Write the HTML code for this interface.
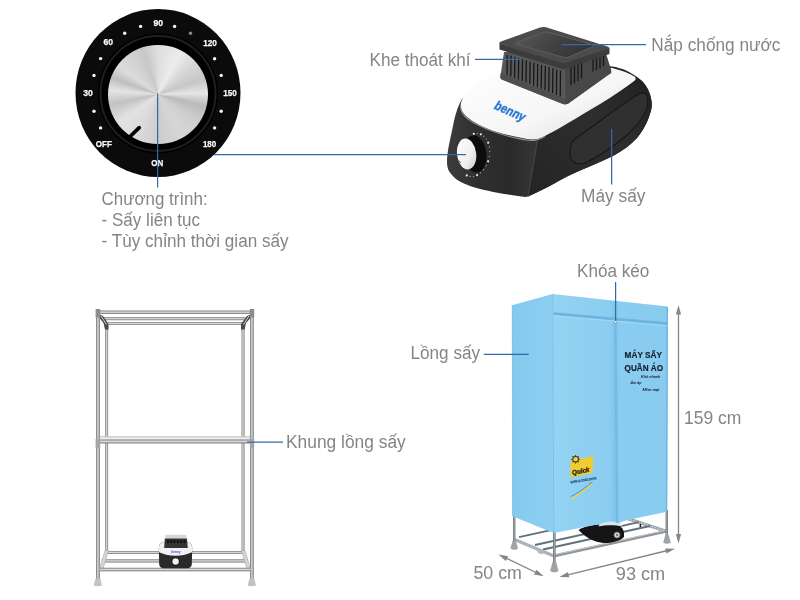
<!DOCTYPE html>
<html lang="vi"><head><meta charset="utf-8"><title>Máy sấy quần áo</title>
<style>
html,body{margin:0;padding:0;background:#fff;}
body{width:800px;height:600px;overflow:hidden;font-family:"Liberation Sans",sans-serif;}
svg{display:block;will-change:transform;font-family:"Liberation Sans",sans-serif;}
</style></head><body>
<svg width="800" height="600" viewBox="0 0 800 600">
<defs>
<radialGradient id="dialg" cx="50%" cy="45%" r="55%"><stop offset="0" stop-color="#1c1c1c"/><stop offset="0.75" stop-color="#0d0d0d"/><stop offset="1" stop-color="#050505"/></radialGradient>
<linearGradient id="tube" x1="0" y1="0" x2="1" y2="0"><stop offset="0" stop-color="#6a6a6a"/><stop offset="0.3" stop-color="#bcbcbc"/><stop offset="0.5" stop-color="#d6d6d6"/><stop offset="0.75" stop-color="#a6a6a6"/><stop offset="1" stop-color="#727272"/></linearGradient>
<linearGradient id="tubeh" x1="0" y1="0" x2="0" y2="1"><stop offset="0" stop-color="#626262"/><stop offset="0.3" stop-color="#bebebe"/><stop offset="0.5" stop-color="#dadada"/><stop offset="0.75" stop-color="#a2a2a2"/><stop offset="1" stop-color="#707070"/></linearGradient>
</defs>
<rect width="800" height="600" fill="#fff"/>

<g id="dial">
<ellipse cx="158" cy="93" rx="82.5" ry="84" fill="#0b0b0b"/>
<circle cx="158" cy="93.5" r="60" fill="#000"/>
<circle cx="158" cy="93.5" r="57.5" fill="none" stroke="#1f1f1f" stroke-width="2"/>
<foreignObject x="108" y="44.7" width="100" height="100"><div style="width:99.6px;height:99.6px;border-radius:50%;background:conic-gradient(from 0deg,#dedede 0deg,#ececec 28deg,#d6d6d6 50deg,#c6c6c6 72deg,#e6e6e6 88deg,#bababa 104deg,#cfcfcf 125deg,#d6d6d6 150deg,#cdcdcd 180deg,#dadada 205deg,#e2e2e2 235deg,#c2c2c2 258deg,#e4e4e4 275deg,#bfbfbf 290deg,#dcdcdc 305deg,#d2d2d2 325deg,#c8c8c8 342deg,#dedede 360deg);"></div></foreignObject>
<line x1="139.2" y1="127.7" x2="130.6" y2="136" stroke="#050505" stroke-width="3.8" stroke-linecap="round"/>
<circle cx="174.6" cy="26.4" r="1.7" fill="#f4f4f4"/>
<circle cx="190.5" cy="33.3" r="1.7" fill="#8a8a8a"/>
<circle cx="214.6" cy="58.7" r="1.7" fill="#f4f4f4"/>
<circle cx="221.2" cy="75.4" r="1.7" fill="#f4f4f4"/>
<circle cx="221.2" cy="111.2" r="1.7" fill="#f4f4f4"/>
<circle cx="214.6" cy="127.9" r="1.7" fill="#f4f4f4"/>
<circle cx="100.6" cy="127.9" r="1.7" fill="#f4f4f4"/>
<circle cx="94.0" cy="111.2" r="1.7" fill="#f4f4f4"/>
<circle cx="94.0" cy="75.4" r="1.7" fill="#f4f4f4"/>
<circle cx="100.6" cy="58.6" r="1.7" fill="#f4f4f4"/>
<circle cx="124.7" cy="33.3" r="1.7" fill="#f4f4f4"/>
<circle cx="140.6" cy="26.4" r="1.7" fill="#f4f4f4"/>
<text x="153.39999999999998" y="25.6" font-size="8.6" fill="#fafafa" text-anchor="start" font-weight="bold" textLength="9.6" lengthAdjust="spacingAndGlyphs" stroke="#fafafa" stroke-width="0.25">90</text>
<text x="103.45" y="45.4" font-size="8.6" fill="#fafafa" text-anchor="start" font-weight="bold" textLength="9.6" lengthAdjust="spacingAndGlyphs" stroke="#fafafa" stroke-width="0.25">60</text>
<text x="203.15" y="45.85" font-size="8.6" fill="#fafafa" text-anchor="start" font-weight="bold" textLength="13.7" lengthAdjust="spacingAndGlyphs" stroke="#fafafa" stroke-width="0.25">120</text>
<text x="83.2" y="95.6" font-size="8.6" fill="#fafafa" text-anchor="start" font-weight="bold" textLength="9.6" lengthAdjust="spacingAndGlyphs" stroke="#fafafa" stroke-width="0.25">30</text>
<text x="223.25" y="96.35" font-size="8.6" fill="#fafafa" text-anchor="start" font-weight="bold" textLength="13.5" lengthAdjust="spacingAndGlyphs" stroke="#fafafa" stroke-width="0.25">150</text>
<text x="95.65" y="147.1" font-size="8.6" fill="#fafafa" text-anchor="start" font-weight="bold" textLength="16.2" lengthAdjust="spacingAndGlyphs" stroke="#fafafa" stroke-width="0.25">OFF</text>
<text x="202.9" y="147.1" font-size="8.6" fill="#fafafa" text-anchor="start" font-weight="bold" textLength="13.2" lengthAdjust="spacingAndGlyphs" stroke="#fafafa" stroke-width="0.25">180</text>
<text x="151.3" y="166.4" font-size="8.6" fill="#fafafa" text-anchor="start" font-weight="bold" textLength="12" lengthAdjust="spacingAndGlyphs" stroke="#fafafa" stroke-width="0.25">ON</text>
</g>
<g id="device">
<defs>
<linearGradient id="bodyg" x1="0" y1="0" x2="1" y2="0"><stop offset="0" stop-color="#3c3c3c"/><stop offset="0.15" stop-color="#2f2f2f"/><stop offset="0.3" stop-color="#2a2a2a"/><stop offset="0.42" stop-color="#343434"/><stop offset="1" stop-color="#222"/></linearGradient>
<linearGradient id="sideg" x1="0" y1="1" x2="1" y2="0"><stop offset="0" stop-color="#242424"/><stop offset="0.6" stop-color="#2e2e2e"/><stop offset="1" stop-color="#202020"/></linearGradient>
<linearGradient id="whiteg" x1="0" y1="0" x2="1" y2="1"><stop offset="0" stop-color="#ffffff"/><stop offset="0.6" stop-color="#f6f6f6"/><stop offset="1" stop-color="#d9d9d9"/></linearGradient>
<linearGradient id="knobg" x1="0" y1="0" x2="1" y2="1"><stop offset="0" stop-color="#ffffff"/><stop offset="0.6" stop-color="#f0f0f0"/><stop offset="1" stop-color="#c8c8c8"/></linearGradient>
<linearGradient id="capg" x1="0" y1="0" x2="1" y2="0.3"><stop offset="0" stop-color="#5a5a5a"/><stop offset="0.5" stop-color="#444"/><stop offset="1" stop-color="#363636"/></linearGradient>
</defs>
<path d="M462,99 C457,108 455,116 453,126 C450,140 447,152 447,162 C447,168 449,172 452,175 C456,180 462,183 470,186 C482,190 500,193.5 518,196 C522,196.8 525,197.3 528,196.6 C545,189 556,182.5 567,176.5 C583,169 599,163 613,156 C623,150.5 631,144.5 637,138 C642,132 646,125 648,119.5 C650,114 652,109 651.8,104 C651.5,96 648,87 642,81 C638,77.5 632,73 624,69.5 C618,67.5 613,66.3 609,66 L600,82 L500,82 L474,92 Z" fill="url(#bodyg)"/>
<path d="M528,196.6 C545,189 556,182.5 567,176.5 C583,169 599,163 613,156 C623,150.5 631,144.5 637,138 C642,132 646,125 648,119.5 C650,114 652,109 651.8,104 C651.5,96 648,87 642,81 L636,76.5 C612,95 580,116 545,135 L537.5,139.5 Z" fill="url(#sideg)"/>
<path d="M537.5,140 L528,196.4" stroke="#474747" stroke-width="1" fill="none"/>
<path d="M575,139 C598,123 624,102 640,93.5 C646.5,91 648.5,97 647.5,105 C646,114 639,124 628,134 C616,145 598,157 586,162.5 C577,166 570.5,162 570,154 C569.8,147 571,142 575,139 Z" fill="#303030" stroke="#161616" stroke-width="1.1"/>
<path d="M462,100 C466,92 470,88 476,84 C484,78 492,74 502,69 L540,60 L612,68 C622,70.5 630,73.5 634.5,76.5 C636.5,78 636,79.5 633.5,81.5 C615,95 600,104.5 584,113.5 C570,122 555,131 543,137 C538,139.5 533,140 527,139 C514,137 503,134 492,130.5 C482,127 473,122 467,117 C461,112 459,106 462,100 Z" fill="url(#whiteg)"/>
<path d="M460.5,106 C460.5,111 463,115.5 468,119 C476,125 486,129 496,132.5 C508,136.5 520,139.5 530,140.5 C536,141 540,139.5 545,136.5" fill="none" stroke="#8e8e8e" stroke-width="1.1"/>
<path d="M504,52 L500.5,76 C500,78 501,79 503,80 L562,103.5 C564,104.5 566,104.5 568,103.5 L609,74 C611,73 611.5,71.5 611,70 L606,54 Z" fill="#585858"/>
<path d="M500.8,73 L564.8,98.8 L610.6,68.5 L611.2,71.5 C611.5,73 611,73.5 609,74.5 L568,103.8 C566,104.8 564,104.8 562,103.8 L503,80 C501,79 500,78 500.3,76 Z" fill="#4e4e4e"/>
<path d="M565,66 L565.5,104 C566,104.3 567,104 568,103.5 L609,74 C611,73 611.5,71.5 611,70 L606,54 Z" fill="#484848"/>
<line x1="507.3" y1="54.7" x2="507.0" y2="74.9" stroke="#151515" stroke-width="1.25"/>
<line x1="511.1" y1="55.8" x2="510.8" y2="76.5" stroke="#151515" stroke-width="1.25"/>
<line x1="514.9" y1="56.9" x2="514.6" y2="78.0" stroke="#151515" stroke-width="1.25"/>
<line x1="518.7" y1="58.1" x2="518.4" y2="79.5" stroke="#151515" stroke-width="1.25"/>
<line x1="522.5" y1="59.2" x2="522.2" y2="81.1" stroke="#151515" stroke-width="1.25"/>
<line x1="526.3" y1="60.3" x2="526.0" y2="82.6" stroke="#151515" stroke-width="1.25"/>
<line x1="530.1" y1="61.5" x2="529.8" y2="84.1" stroke="#151515" stroke-width="1.25"/>
<line x1="533.9" y1="62.6" x2="533.6" y2="85.7" stroke="#151515" stroke-width="1.25"/>
<line x1="537.7" y1="63.7" x2="537.4" y2="87.2" stroke="#151515" stroke-width="1.25"/>
<line x1="541.5" y1="64.9" x2="541.2" y2="88.7" stroke="#151515" stroke-width="1.25"/>
<line x1="545.3" y1="66.0" x2="545.0" y2="90.3" stroke="#151515" stroke-width="1.25"/>
<line x1="549.1" y1="67.1" x2="548.8" y2="91.8" stroke="#151515" stroke-width="1.25"/>
<line x1="552.9" y1="68.3" x2="552.6" y2="93.3" stroke="#151515" stroke-width="1.25"/>
<line x1="556.7" y1="69.4" x2="556.4" y2="94.9" stroke="#151515" stroke-width="1.25"/>
<line x1="560.5" y1="70.5" x2="560.2" y2="96.4" stroke="#151515" stroke-width="1.25"/>
<line x1="571" y1="67" x2="571" y2="85" stroke="#151515" stroke-width="1.25"/>
<line x1="574.5" y1="65.5" x2="574.5" y2="83.5" stroke="#151515" stroke-width="1.25"/>
<line x1="578" y1="64" x2="578" y2="81" stroke="#151515" stroke-width="1.25"/>
<line x1="581.5" y1="62.5" x2="581.5" y2="78.5" stroke="#151515" stroke-width="1.25"/>
<line x1="593" y1="58.5" x2="593" y2="71.5" stroke="#151515" stroke-width="1.25"/>
<line x1="596.5" y1="57" x2="596.5" y2="70" stroke="#151515" stroke-width="1.25"/>
<line x1="600" y1="55.5" x2="600" y2="68.5" stroke="#151515" stroke-width="1.25"/>
<line x1="603.5" y1="54" x2="603.5" y2="66" stroke="#151515" stroke-width="1.25"/>
<path d="M499.5,43 L499.5,49.5 L563.5,69.5 L609.5,54 L609.5,47.5 L563.5,63 Z" fill="#3c3c3c"/>
<path d="M501,41.5 L540,27.5 C542,26.8 544,26.8 546,27.3 L607.5,46.5 C609.5,47.3 609.5,48.3 607.5,49 L566,62.5 C564,63.2 562,63.2 560,62.6 L501,44.5 C499,43.8 499,42.3 501,41.5 Z" fill="#4b4b4b"/>
<path d="M517,42 L543,32.5 C545,32 547,32 549,32.5 L592,44.5 C594,45.3 594,46.3 592,47 L569,57 C567,57.7 565,57.7 563,57.2 L517,44.5 C515.5,44 515.5,42.6 517,42 Z" fill="url(#capg)" stroke="#5e5e5e" stroke-width="1"/>
<ellipse cx="475" cy="154" rx="11.3" ry="18.6" fill="#0c0c0c" transform="rotate(-7 475 154)"/>
<circle cx="473.8" cy="133.8" r="1.1" fill="#ededed"/>
<circle cx="477.4" cy="133.5" r="0.6" fill="#bdbdbd"/>
<circle cx="480.8" cy="134.3" r="1.1" fill="#ededed"/>
<circle cx="483.8" cy="136.2" r="0.6" fill="#bdbdbd"/>
<circle cx="486.3" cy="139.0" r="0.6" fill="#bdbdbd"/>
<circle cx="488.2" cy="142.7" r="1.1" fill="#ededed"/>
<circle cx="489.3" cy="146.9" r="0.6" fill="#bdbdbd"/>
<circle cx="489.7" cy="151.6" r="0.6" fill="#bdbdbd"/>
<circle cx="489.3" cy="156.5" r="0.6" fill="#bdbdbd"/>
<circle cx="488.1" cy="161.3" r="1.1" fill="#ededed"/>
<circle cx="486.1" cy="165.8" r="0.6" fill="#bdbdbd"/>
<circle cx="483.6" cy="169.7" r="0.6" fill="#bdbdbd"/>
<circle cx="480.5" cy="172.8" r="0.6" fill="#bdbdbd"/>
<circle cx="477.1" cy="175.1" r="1.1" fill="#ededed"/>
<circle cx="473.6" cy="176.3" r="0.6" fill="#bdbdbd"/>
<circle cx="470.1" cy="176.4" r="0.6" fill="#bdbdbd"/>
<circle cx="466.8" cy="175.4" r="1.1" fill="#ededed"/>
<ellipse cx="466.6" cy="154" rx="9.6" ry="15.6" fill="url(#knobg)" transform="rotate(-7 466.6 154)"/>
<path d="M458.8,160.5 L460.6,162.6" stroke="#222" stroke-width="0.9"/>
<text x="493.5" y="108.6" font-size="13" font-weight="bold" font-style="italic" fill="#2a78d2" stroke="#2a78d2" stroke-width="0.4" transform="rotate(24 493.5 108.6)" textLength="32.5" lengthAdjust="spacingAndGlyphs">benny</text>
</g>
<g id="rack">
<rect x="105.2" y="327" width="2.90" height="226.00" fill="url(#tube)"/>
<rect x="241.6" y="327" width="2.90" height="226.00" fill="url(#tube)"/>
<rect x="103.5" y="317.2" width="143.50" height="3.00" fill="url(#tubeh)"/>
<rect x="107.5" y="322.2" width="135.50" height="2.70" fill="url(#tubeh)"/>
<path d="M99.5,314.5 L103,316 L108.5,324 L108.5,329.5 L105,329.5 L103.5,323 L99.5,318 Z" fill="#4a4a4a"/>
<path d="M101,316 L106.5,324.5" stroke="#d0d0d0" stroke-width="1" fill="none"/>
<path d="M250.5,314.5 L247,316 L241,324 L241,329.5 L244.6,329.5 L246,323 L250.5,318 Z" fill="#4a4a4a"/>
<path d="M249,316 L243.5,324.5" stroke="#d0d0d0" stroke-width="1" fill="none"/>
<rect x="105.2" y="551.2" width="139.30" height="2.80" fill="url(#tubeh)"/>
<rect x="102" y="559.4" width="146.00" height="3.10" fill="url(#tubeh)"/>
<path d="M100,567 L105,550.5 L108.5,550.5 L103,569 Z" fill="#d5d5d5" stroke="#a8a8a8" stroke-width="0.6"/>
<path d="M250,567 L245,550.5 L241.5,550.5 L247,569 Z" fill="#d5d5d5" stroke="#a8a8a8" stroke-width="0.6"/>
<rect x="100" y="436.6" width="150.5" height="4" fill="#ececec"/>
<rect x="99" y="439.6" width="152.50" height="3.80" fill="url(#tubeh)"/>
<rect x="100" y="436.4" width="150.5" height="0.8" fill="#b5b5b5"/>
<rect x="96" y="312" width="3.90" height="268.00" fill="url(#tube)"/>
<rect x="250" y="312" width="3.80" height="268.00" fill="url(#tube)"/>
<rect x="99.5" y="310.6" width="151.00" height="3.40" fill="url(#tubeh)"/>
<rect x="95.6" y="309" width="4.6" height="8.5" fill="#8c8c8c"/>
<rect x="249.8" y="309" width="4.4" height="8.5" fill="#8c8c8c"/>
<rect x="95.6" y="439" width="4.6" height="9" fill="#a6a6a6"/>
<rect x="249.8" y="439" width="4.4" height="9" fill="#a6a6a6"/>
<rect x="99.5" y="567.8" width="151.00" height="3.50" fill="url(#tubeh)"/>
<path d="M95.6,578.6 L100.3,578.6 L102,585.6 Q97.8,587 93.6,585.6 Z" fill="#c2c2c2"/>
<path d="M249.6,578.6 L254.3,578.6 L256,585.6 Q251.8,587 247.6,585.6 Z" fill="#c2c2c2"/>
<g id="minidryer">
<path d="M158.8,548 Q158.8,542 164.5,542 L186.5,542 Q192.2,542 192.2,548 L191.8,564.5 Q191.4,568 187,568.3 L164,568.3 Q159.6,568 159.2,564.5 Z" fill="#2a2a2a"/>
<path d="M158.9,548 Q158.8,542 164.5,542 L186.5,542 Q192.2,542 192.1,548 L192,552.2 Q184,555.8 175.5,555.8 Q167,555.8 159,552.2 Z" fill="#f1f1f1"/>
<rect x="165.2" y="534.8" width="21.2" height="4" rx="1.2" fill="#d6d6d6"/>
<path d="M164.8,538.4 L187,538.4 L187.8,548 L164.2,548 Z" fill="#333"/>
<rect x="167.0" y="540.2" width="1.9" height="2.6" fill="#0a0a0a"/>
<rect x="170.3" y="540.2" width="1.9" height="2.6" fill="#0a0a0a"/>
<rect x="173.6" y="540.2" width="1.9" height="2.6" fill="#0a0a0a"/>
<rect x="176.9" y="540.2" width="1.9" height="2.6" fill="#0a0a0a"/>
<rect x="180.2" y="540.2" width="1.9" height="2.6" fill="#0a0a0a"/>
<rect x="183.5" y="540.2" width="1.9" height="2.6" fill="#0a0a0a"/>
<text x="176" y="552.5" font-size="2.6" font-weight="bold" font-style="italic" fill="#2a62b8" text-anchor="middle" textLength="9.4" lengthAdjust="spacingAndGlyphs">benny</text>
<circle cx="175.6" cy="561.5" r="4.3" fill="#141414"/>
<circle cx="175.6" cy="561.5" r="3.2" fill="#efefef"/>
</g>
</g>
<g id="wardrobe">
<defs>
<linearGradient id="frontg" x1="0" y1="0" x2="1" y2="0"><stop offset="0" stop-color="#93d3f3"/><stop offset="0.5" stop-color="#8bcdf0"/><stop offset="0.54" stop-color="#7fc4ea"/><stop offset="0.58" stop-color="#8bcdf0"/><stop offset="1" stop-color="#88cbef"/></linearGradient>
<linearGradient id="sidefg" x1="0" y1="0" x2="1" y2="0"><stop offset="0" stop-color="#85c9ee"/><stop offset="1" stop-color="#8ccff1"/></linearGradient>
<linearGradient id="legg" x1="0" y1="0" x2="1" y2="0"><stop offset="0" stop-color="#62676c"/><stop offset="0.5" stop-color="#a4a9ae"/><stop offset="1" stop-color="#6a6f74"/></linearGradient>
</defs>
<line x1="628" y1="518.8" x2="667" y2="531.5" stroke="#9aa0a6" stroke-width="3.2"/>
<line x1="628" y1="518.8" x2="667" y2="531.5" stroke="#d5d9dc" stroke-width="1.6" stroke-dasharray="1.2 1.6"/>
<rect x="639.6" y="524" width="1.6" height="3.6" fill="#222"/>
<line x1="519" y1="537.2" x2="619" y2="515.2" stroke="#5d727e" stroke-width="1.8"/>
<line x1="535" y1="545" x2="639" y2="522.2" stroke="#5d727e" stroke-width="1.8"/>
<line x1="543" y1="549.5" x2="650" y2="526.0" stroke="#5d727e" stroke-width="1.9"/>
<line x1="514.5" y1="539.5" x2="554" y2="556" stroke="#aeb2b6" stroke-width="3.4"/>
<line x1="554.5" y1="555.8" x2="667" y2="531.1" stroke="#8e949a" stroke-width="3.0"/>
<line x1="554.5" y1="554.8" x2="667" y2="530.1" stroke="#c9cdd0" stroke-width="0.9"/>
<rect x="513" y="514" width="2.4" height="30" fill="url(#legg)"/>
<rect x="665.6" y="510" width="2.4" height="28" fill="url(#legg)"/>
<rect x="553" y="530" width="2.6" height="35" fill="url(#legg)"/>
<path d="M512.5,541 L515.9000000000001,541 L518.0,548.5 Q514.2,551.2 510.40000000000003,548.5 Z" fill="#9ea3a8"/>
<path d="M665.3,535 L668.7,535 L670.8,542.5 Q667,545.2 663.2,542.5 Z" fill="#9ea3a8"/>
<path d="M552.5,562 L556.0999999999999,562 L558.5,571.1 Q554.3,573.8000000000001 550.0999999999999,571.1 Z" fill="#9ea3a8"/>
<path d="M536,548 L543,551 L543,554.5 L538,553 Z" fill="#b4b8bc"/>
<path d="M578.5,530 C585,526 593,524.5 603,524.5 L616,524.5 C621,525.5 623.5,529 624,533 L624,537 C620,541 612,543 604,543 C594,542.5 585,537 578.5,530 Z" fill="#151515"/>
<circle cx="617" cy="535" r="3.1" fill="#d9d9d9" stroke="#555" stroke-width="0.8"/>
<circle cx="617" cy="535" r="1.2" fill="#777"/>
<path d="M512,305.3 L552.6,293.9 L553.8,533 L512.4,516.3 Z" fill="url(#sidefg)"/>
<path d="M552.6,293.9 L667.8,306.6 L667,511.8 L630,519.5 C624,520.5 620,523 616,524 C611,523.5 606,523 600,524 L553.8,533 Z" fill="url(#frontg)"/>
<path d="M599.5,524.2 C606,520.6 615,520.6 620.5,523.6 L622.5,526.6 C615,524.8 606,524.8 598.5,526.6 Z" fill="#d3e6f0"/>
<line x1="552.7" y1="294" x2="553.8" y2="533" stroke="#7cc0e6" stroke-width="1"/>
<line x1="667.3" y1="307" x2="666.6" y2="511.5" stroke="#6fb5de" stroke-width="1.4"/>
<line x1="512.3" y1="305.5" x2="512.6" y2="516" stroke="#7cc0e6" stroke-width="0.8"/>
<line x1="553.5" y1="313.6" x2="667.6" y2="323.6" stroke="#6cb5e0" stroke-width="2.8"/>
<line x1="553.5" y1="315.8" x2="667.6" y2="325.8" stroke="#a5dbf5" stroke-width="0.9"/>
<line x1="615.4" y1="321.5" x2="617.2" y2="523" stroke="#74bbe4" stroke-width="2.4"/>
<rect x="614.4" y="319.5" width="2.2" height="3.6" rx="0.8" fill="#e8f4fa" stroke="#6a8da3" stroke-width="0.5"/>
<g fill="#15202b" font-weight="bold">
<text x="624.6" y="357.7" font-size="9.6" stroke="#15202b" stroke-width="0.2" textLength="37.4" lengthAdjust="spacingAndGlyphs">MÁY SẤY</text>
<text x="624.6" y="370.5" font-size="9.6" stroke="#15202b" stroke-width="0.2" textLength="38.4" lengthAdjust="spacingAndGlyphs">QUẦN ÁO</text>
<text x="641" y="378.2" font-size="3.4" font-style="italic" textLength="19.4" lengthAdjust="spacingAndGlyphs">Khô nhanh</text>
<text x="630.6" y="384" font-size="3.4" font-style="italic" textLength="10.8" lengthAdjust="spacingAndGlyphs">Ấm áp</text>
<text x="642.5" y="390.6" font-size="3.4" font-style="italic" textLength="16.8" lengthAdjust="spacingAndGlyphs">Mềm mại</text>
</g>
<path d="M570.6,461.3 L593.1,456 L592.5,473.1 L570.6,477.5 Z" fill="#f1cb2f"/>
<polygon points="580.2,459.3 578.4,460.4 578.9,462.6 576.7,462.1 575.6,463.9 574.5,462.1 572.3,462.6 572.8,460.4 571.0,459.3 572.8,458.2 572.3,456.0 574.5,456.5 575.6,454.7 576.7,456.5 578.9,456.0 578.4,458.2" fill="#3a3520"/>
<circle cx="575.6" cy="459.3" r="2.3" fill="#f3cf35"/>
<text x="572.6" y="475" font-size="6.6" font-weight="bold" font-style="italic" fill="#22201a" stroke="#22201a" stroke-width="0.3" transform="rotate(-11 572.6 475)" textLength="17.5" lengthAdjust="spacingAndGlyphs">Quick</text>
<text x="570.8" y="483.4" font-size="3.2" font-weight="bold" fill="#244f8c" stroke="#244f8c" stroke-width="0.2" transform="rotate(-9 570.8 483.4)" textLength="26" lengthAdjust="spacingAndGlyphs">WARM CLOTHES DRYER</text>
<path d="M571,498.8 C578,495 586,489.5 591.5,483.8" fill="none" stroke="#e9d24a" stroke-width="1.5"/>
<path d="M570.8,496.6 C578,493 586,487.5 592.5,481.5" fill="none" stroke="#3a6ea8" stroke-width="0.7"/>
</g>
<g id="dims">
<line x1="678.5" y1="312.6" x2="678.5" y2="535.9" stroke="#868686" stroke-width="1.3"/>
<polygon points="678.5,305.0 675.9,314.5 681.1,314.5" fill="#868686"/>
<polygon points="678.5,543.5 675.9,534.0 681.1,534.0" fill="#868686"/>
<line x1="505.2" y1="557.7" x2="537.0" y2="573.0" stroke="#868686" stroke-width="1.3"/>
<polygon points="498.4,554.4 505.8,560.9 508.1,556.2" fill="#868686"/>
<polygon points="543.8,576.3 534.1,574.5 536.4,569.8" fill="#868686"/>
<line x1="566.8" y1="575.1" x2="667.6" y2="550.5" stroke="#868686" stroke-width="1.3"/>
<polygon points="559.4,576.9 569.2,577.2 568.0,572.1" fill="#868686"/>
<polygon points="675.0,548.7 666.4,553.5 665.2,548.4" fill="#868686"/>
</g>
<g stroke="#336aa6" stroke-width="1.25" fill="none">
<line x1="157.6" y1="93.5" x2="157.6" y2="187.5"/>
<line x1="214" y1="154.5" x2="466" y2="154.5"/>
<line x1="475" y1="59.3" x2="520.5" y2="59.3"/>
<line x1="562" y1="44.6" x2="646" y2="44.6"/>
<line x1="611.6" y1="129" x2="611.6" y2="184.5"/>
<line x1="615.6" y1="282" x2="615.6" y2="321"/>
<line x1="483.8" y1="354.4" x2="528.8" y2="354.4"/>
<line x1="247" y1="442.2" x2="283" y2="442.2"/>
</g>
<g>
<text x="369.5" y="65.8" font-size="18" fill="#858585" text-anchor="start" font-weight="normal" textLength="101" lengthAdjust="spacingAndGlyphs">Khe thoát khí</text>
<text x="651.3" y="51.3" font-size="18" fill="#858585" text-anchor="start" font-weight="normal" textLength="129.2" lengthAdjust="spacingAndGlyphs">Nắp chống nước</text>
<text x="581" y="201.5" font-size="18" fill="#858585" text-anchor="start" font-weight="normal" textLength="64.5" lengthAdjust="spacingAndGlyphs">Máy sấy</text>
<text x="101.6" y="205.4" font-size="18" fill="#858585" text-anchor="start" font-weight="normal" textLength="106" lengthAdjust="spacingAndGlyphs">Chương trình:</text>
<text x="101.6" y="226.4" font-size="18" fill="#858585" text-anchor="start" font-weight="normal" textLength="98.5" lengthAdjust="spacingAndGlyphs">- Sấy liên tục</text>
<text x="101.6" y="247.4" font-size="18" fill="#858585" text-anchor="start" font-weight="normal" textLength="187" lengthAdjust="spacingAndGlyphs">- Tùy chỉnh thời gian sấy</text>
<text x="577" y="276.5" font-size="18" fill="#858585" text-anchor="start" font-weight="normal" textLength="72.4" lengthAdjust="spacingAndGlyphs">Khóa kéo</text>
<text x="410.6" y="359.2" font-size="18" fill="#858585" text-anchor="start" font-weight="normal" textLength="69.4" lengthAdjust="spacingAndGlyphs">Lồng sấy</text>
<text x="286" y="448" font-size="18" fill="#858585" text-anchor="start" font-weight="normal" textLength="119.75" lengthAdjust="spacingAndGlyphs">Khung lồng sấy</text>
<text x="684" y="423.8" font-size="18" fill="#858585" text-anchor="start" font-weight="normal" textLength="57.4" lengthAdjust="spacingAndGlyphs">159 cm</text>
<text x="473.4" y="579.2" font-size="18" fill="#858585" text-anchor="start" font-weight="normal" textLength="48.5" lengthAdjust="spacingAndGlyphs">50 cm</text>
<text x="615.8" y="580.2" font-size="18" fill="#858585" text-anchor="start" font-weight="normal" textLength="49.4" lengthAdjust="spacingAndGlyphs">93 cm</text>
</g>
</svg></body></html>
